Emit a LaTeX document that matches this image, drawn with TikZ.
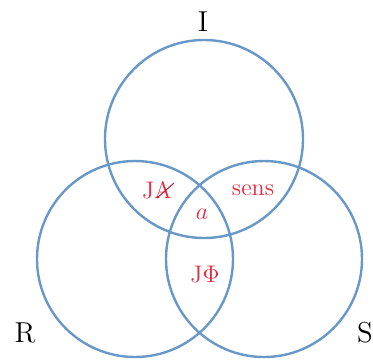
\documentclass[tikz,border=0pt]{standalone}
\usepackage{amsmath, amssymb}
\usepackage{xcolor}
\usetikzlibrary{calc,positioning}
\definecolor{ringblue}{RGB}{104,152,200}
\definecolor{labred}{RGB}{232,40,60}
\tikzset{
  ring/.style={draw=ringblue, line width=1.2pt},
  setlab/.style={text=black, font=\Large},
  zonelab/.style={text=labred, font=\large},
  strike/.style={draw=labred!80!black, line width=0.5pt}
}
\begin{document}
\begin{tikzpicture}[x=0.5pt,y=-0.5pt]
        \useasboundingbox (0,0) rectangle (373,359);
        % Centres of the three sets
        \coordinate (cI) at (204,139);
        \coordinate (cR) at (135,259);
        \coordinate (cS) at (264,259);
        % Draw the circles
        \draw[ring] (cI) circle (99);
        \draw[ring] (cR) circle (98);
        \draw[ring] (cS) circle (98);
        % Label the sets
        \node[setlab] (lI) at (203,22) {I};
        \node[setlab] (lR) at (25,333) {R};
        \node[setlab] (lS) at (365,333) {S};
        % Label the zones
        \node[zonelab] (zJA) at (157,190) {JA};
        \draw[strike] ($(zJA.center)+(0,8)$) -- ($(zJA.center)+(17,-7)$);
        \node[zonelab] (zsens) at (253,190) {sens};
        \node[zonelab] (za) at (202,214) {$a$};
        \node[zonelab] (zJPhi) at (205,275) {J$\Phi$};
      \end{tikzpicture}
\end{document}
